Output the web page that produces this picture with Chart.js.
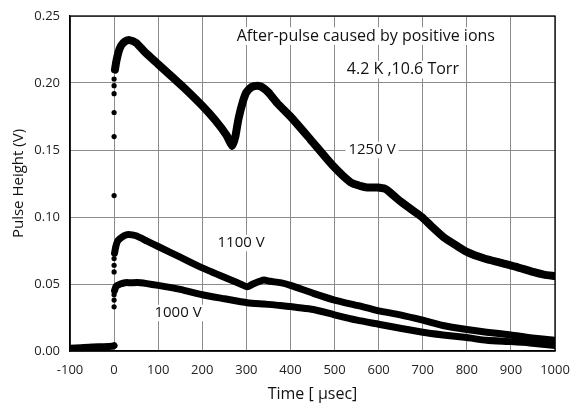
<!DOCTYPE html>
<html>
<head>
<meta charset="utf-8">
<script src="https://cdn.jsdelivr.net/npm/chart.js@4"></script>
<style>
  html, body { margin: 0; padding: 0; background: #fff; }
  #wrap { width: 570px; height: 406px; }
</style>
</head>
<body>
<div id="wrap"><canvas id="pulseChart"></canvas></div>
<script>
// (time in usec, height in V)
const xTicks = [-100, 0, 100, 200, 300, 400, 500, 600, 700, 800, 900, 1000];
const yTicks = [0, 0.05, 0.10, 0.15, 0.20, 0.25];

// noise before the trigger, all three runs sit on top of each other here
const tPre = [-100, -75, -50, -25, -5, 0];
const vPre = [0.002, 0.0025, 0.003, 0.0032, 0.0035, 0.004];

// 1250 V
const tRise1250 = [0, 0, 0, 0, 0, 0, 0];
const vRise1250 = [0.116, 0.160, 0.178, 0.192, 0.198, 0.203, 0.210];
const t1250 = [2, 5, 10, 16, 25, 35, 50, 70, 100, 130, 160, 200, 230, 255, 268, 275, 282, 292, 300, 312, 325, 335, 350, 370, 400, 445, 497, 536, 560, 574, 597, 615, 627, 648, 673, 698, 720, 747, 775, 800, 840, 875, 910, 950, 975, 1000];
const v1250 = [0.210, 0.216, 0.223, 0.228, 0.231, 0.232, 0.230, 0.223, 0.214, 0.205, 0.196, 0.183, 0.172, 0.161, 0.153, 0.160, 0.173, 0.186, 0.193, 0.197, 0.198, 0.197, 0.193, 0.185, 0.175, 0.158, 0.138, 0.126, 0.123, 0.122, 0.122, 0.121, 0.118, 0.112, 0.106, 0.100, 0.093, 0.085, 0.079, 0.074, 0.069, 0.066, 0.063, 0.059, 0.057, 0.056];

// 1100 V
const tRise1100 = [0, 0, 0];
const vRise1100 = [0.059, 0.064, 0.069];
const t1100 = [1, 4, 8, 14, 22, 32, 50, 75, 100, 150, 200, 250, 280, 302, 315, 330, 340, 354, 377, 400, 452, 500, 551, 600, 649, 700, 746, 800, 845, 900, 943, 1000];
const v1100 = [0.073, 0.078, 0.082, 0.084, 0.086, 0.087, 0.086, 0.082, 0.078, 0.070, 0.062, 0.055, 0.051, 0.048, 0.050, 0.052, 0.053, 0.052, 0.051, 0.049, 0.043, 0.038, 0.034, 0.030, 0.027, 0.023, 0.019, 0.016, 0.014, 0.012, 0.010, 0.008];

// 1000 V
const tRise1000 = [0, 0, 0];
const vRise1000 = [0.033, 0.038, 0.042];
const t1000 = [1, 4, 8, 14, 25, 36, 60, 100, 150, 200, 250, 302, 340, 377, 452, 500, 551, 600, 649, 700, 746, 800, 845, 900, 943, 1000];
const v1000 = [0.045, 0.048, 0.049, 0.050, 0.051, 0.051, 0.051, 0.049, 0.046, 0.042, 0.039, 0.036, 0.035, 0.034, 0.031, 0.027, 0.023, 0.020, 0.017, 0.014, 0.012, 0.010, 0.008, 0.007, 0.006, 0.004];

// text written inside the plot, placed in data units
const notes = [
  { text: 'After-pulse caused by positive ions', t: 571, v: 0.235, size: 16 },
  { text: '4.2 K ,10.6 Torr', t: 655, v: 0.210, size: 16 },
  { text: '1250 V', t: 585, v: 0.150, size: 15 },
  { text: '1100 V', t: 288, v: 0.0806, size: 15 },
  { text: '1000 V', t: 145, v: 0.0284, size: 15 }
];

const FONT = "'Open Sans', 'DejaVu Sans', sans-serif";

function pairs(ts, vs) {
  return ts.map((t, i) => ({ x: t, y: vs[i] }));
}

function traceSet(label, ts, vs, width) {
  return {
    label: label,
    data: pairs(ts, vs),
    showLine: true,
    borderColor: '#000',
    backgroundColor: '#000',
    borderWidth: width,
    borderCapStyle: 'round',
    borderJoinStyle: 'round',
    pointRadius: 0,
    tension: 0.2
  };
}

function dotSet(label, ts, vs) {
  return {
    label: label,
    data: pairs(ts, vs),
    showLine: false,
    borderColor: '#000',
    backgroundColor: '#000',
    pointRadius: 2.6,
    pointBorderWidth: 0
  };
}

// white boxes + labels, and the closed frame round the plot
const plotDecor = {
  id: 'plotDecor',
  beforeDatasetsDraw(chart) {
    const ctx = chart.ctx;
    const xs = chart.scales.x, ys = chart.scales.y;
    ctx.save();
    ctx.textAlign = 'center';
    ctx.textBaseline = 'middle';
    notes.forEach(n => {
      ctx.font = n.size + 'px ' + FONT;
      const px = xs.getPixelForValue(n.t);
      const py = ys.getPixelForValue(n.v);
      const w = ctx.measureText(n.text).width;
      ctx.fillStyle = '#fff';
      ctx.fillRect(px - w / 2 - 3, py - n.size * 0.55, w + 6, n.size * 1.1);
      ctx.fillStyle = '#111';
      ctx.fillText(n.text, px, py);
    });
    ctx.restore();
  },
  afterDraw(chart) {
    const a = chart.chartArea;
    const ctx = chart.ctx;
    ctx.save();
    ctx.strokeStyle = '#000';
    ctx.lineWidth = 1.3;
    ctx.strokeRect(a.left, a.top, a.right - a.left, a.bottom - a.top);
    ctx.restore();
  }
};

new Chart(document.getElementById('pulseChart'), {
  type: 'scatter',
  data: {
    datasets: [
      traceSet('pre-trigger', tPre, vPre, 7),
      dotSet('1250 V rise', tRise1250, vRise1250),
      traceSet('1250 V', t1250, v1250, 8),
      dotSet('1100 V rise', tRise1100, vRise1100),
      traceSet('1100 V', t1100, v1100, 7),
      dotSet('1000 V rise', tRise1000, vRise1000),
      traceSet('1000 V', t1000, v1000, 7)
    ]
  },
  options: {
    responsive: true,
    maintainAspectRatio: false,
    animation: false,
    layout: { padding: { top: 16, right: 15, left: 0, bottom: 0 } },
    plugins: {
      legend: { display: false },
      tooltip: { enabled: false }
    },
    scales: {
      x: {
        type: 'linear',
        min: -100,
        max: 1000,
        afterBuildTicks: s => { s.ticks = xTicks.map(v => ({ value: v })); },
        afterFit: s => { s.height = 55; s.paddingLeft = 0; s.paddingRight = 0; },
        grid: { color: '#8c8c8c', lineWidth: 1, drawTicks: false },
        border: { color: '#000', width: 1.3 },
        ticks: {
          color: '#222',
          font: { family: FONT, size: 13 },
          padding: 11,
          maxRotation: 0,
          callback: v => String(v)
        },
        title: {
          display: true,
          text: 'Time [ \u03bcsec]',
          color: '#111',
          font: { family: FONT, size: 16 },
          padding: { top: 0, bottom: 2 }
        }
      },
      y: {
        type: 'linear',
        min: 0,
        max: 0.25,
        afterBuildTicks: s => { s.ticks = yTicks.map(v => ({ value: v })); },
        afterFit: s => { s.width = 70; s.paddingTop = 0; s.paddingBottom = 0; },
        grid: { color: '#8c8c8c', lineWidth: 1, drawTicks: false },
        border: { color: '#000', width: 1.3 },
        ticks: {
          color: '#222',
          font: { family: FONT, size: 13 },
          padding: 10,
          callback: v => v.toFixed(2)
        },
        title: {
          display: true,
          text: 'Pulse Height (V)',
          color: '#111',
          font: { family: FONT, size: 15 },
          padding: { top: 10, bottom: 0 }
        }
      }
    }
  },
  plugins: [plotDecor]
});
</script>
</body>
</html>
